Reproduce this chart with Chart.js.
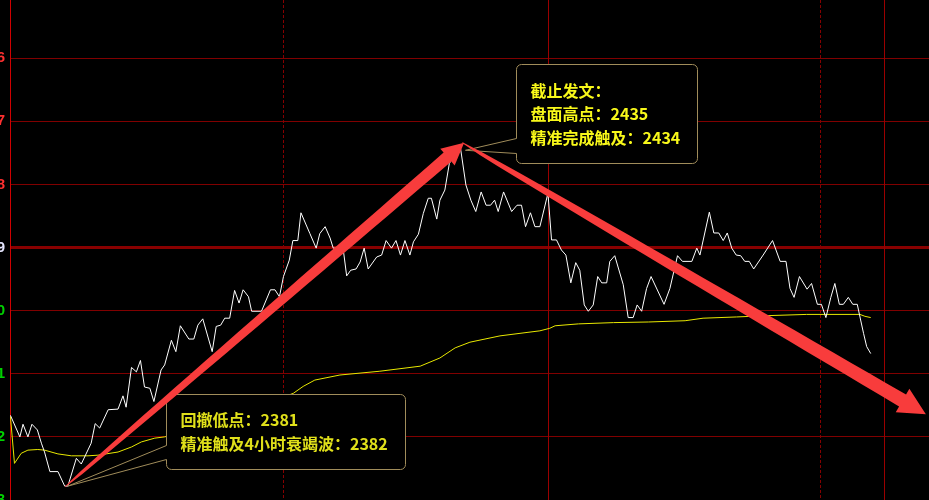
<!DOCTYPE html>
<html>
<head>
<meta charset="utf-8">
<script src="https://cdn.jsdelivr.net/npm/chart.js@4.4.1/dist/chart.umd.min.js"></script>
<style>
html, body { margin: 0; padding: 0; background: #000; overflow: hidden; }
#wrap { position: absolute; left: 0; top: -5px; width: 929px; height: 505px; }
</style>
</head>
<body>
<div id="wrap"><canvas id="chart" width="929" height="505"></canvas></div>
<script>
// intraday price (minutes from open, index points)
const priceMinutes = [
    0.1, 2.2, 2.9, 4.0, 4.9, 6.1, 7.0, 7.7, 8.9, 10.7,
    12.2, 12.9, 14.8, 15.9, 18.1, 19.0, 20.0, 21.9, 24.1, 25.2,
    25.9, 27.1, 28.2, 29.1, 30.0, 31.2, 32.1, 33.7, 34.5, 36.0,
    37.0, 38.0, 39.9, 41.0, 41.9, 43.0, 45.1, 46.0, 47.0, 47.9,
    49.0, 50.1, 51.1, 52.0, 53.2, 53.9, 56.1, 58.1, 59.1, 60.1,
    61.0, 62.3, 63.1, 64.2, 64.9, 66.9, 68.3, 69.1, 70.3, 71.4,
    72.1, 74.3, 75.1, 76.0, 77.2, 78.1, 79.0, 79.9, 81.8, 82.9,
    83.9, 85.1, 86.1, 87.1, 88.1, 89.2, 90.0, 91.1, 92.2, 93.3,
    94.0, 95.2, 95.9, 97.0, 98.0, 100.4, 101.7, 102.8, 103.9, 105.1,
    106.2, 107.2, 108.1, 108.9, 110.1, 111.9, 113.1, 114.1, 115.0, 116.1,
    117.1, 118.2, 120.0, 120.8, 121.9, 123.0, 124.0, 125.1, 126.2, 127.1,
    128.1, 129.0, 130.1, 131.1, 132.0, 133.1, 133.8, 134.9, 136.8, 137.9,
    139.0, 139.9, 140.9, 142.0, 143.0, 145.9, 147.2, 148.9, 150.0, 152.1,
    153.2, 153.9, 156.0, 157.0, 158.1, 159.1, 160.0, 161.0, 162.0, 163.0,
    163.9, 164.9, 165.9, 168.0, 170.1, 171.8, 173.1, 174.0, 174.9, 176.1,
    177.8, 178.8, 180.1, 181.0, 182.0, 183.1, 184.0, 185.0, 185.9, 187.0,
    188.0, 189.0, 189.6, 190.4, 191.1, 192.0
];
const priceValues = [
    2392.4, 2389.0, 2391.0, 2389.0, 2391.0, 2390.1, 2388.0, 2386.6, 2383.5, 2383.5,
    2381.2, 2381.2, 2385.6, 2384.7, 2388.0, 2391.1, 2390.4, 2393.3, 2393.4, 2395.5,
    2393.7, 2400.0, 2399.3, 2401.1, 2396.9, 2396.7, 2394.6, 2399.6, 2400.4, 2404.3,
    2402.5, 2406.6, 2404.5, 2404.5, 2406.7, 2407.7, 2402.5, 2406.5, 2406.7, 2407.8,
    2407.8, 2412.2, 2410.2, 2412.3, 2411.2, 2408.9, 2408.9, 2412.3, 2412.3, 2411.2,
    2414.4, 2417.0, 2420.1, 2420.1, 2424.5, 2421.2, 2418.9, 2421.2, 2422.3, 2420.5,
    2418.9, 2418.9, 2414.5, 2415.4, 2415.6, 2416.7, 2418.9, 2415.6, 2417.5, 2417.8,
    2420.1, 2418.9, 2420.1, 2417.8, 2420.1, 2417.8, 2419.9, 2421.1, 2424.4, 2426.8,
    2426.8, 2423.5, 2426.5, 2428.1, 2432.3, 2435.2, 2428.9, 2426.5, 2424.7, 2427.8,
    2425.7, 2425.7, 2426.5, 2424.7, 2427.8, 2424.7, 2425.7, 2425.7, 2422.3, 2424.5,
    2422.3, 2422.3, 2427.6, 2420.2, 2420.2, 2418.6, 2417.8, 2413.4, 2416.6, 2415.4,
    2409.9, 2408.9, 2409.9, 2414.4, 2413.4, 2413.4, 2416.8, 2417.7, 2413.1, 2407.9,
    2407.9, 2409.9, 2408.9, 2412.5, 2414.4, 2410.0, 2412.5, 2417.7, 2416.8, 2416.8,
    2418.9, 2417.8, 2424.6, 2421.3, 2421.3, 2420.1, 2421.3, 2418.9, 2417.8, 2417.7,
    2416.8, 2416.8, 2415.6, 2417.8, 2420.1, 2416.8, 2416.8, 2412.5, 2411.1, 2414.4,
    2412.4, 2413.3, 2410.0, 2410.0, 2407.9, 2411.1, 2413.3, 2410.0, 2410.0, 2411.1,
    2410.0, 2410.0, 2408.0, 2405.4, 2403.3, 2402.2
];

// average price line
const avgMinutes = [
    0.1, 1.0, 2.5, 4.0, 6.2, 7.7, 10.7, 13.7, 17.4, 19.6,
    24.1, 27.1, 29.3, 32.3, 34.5, 42.4, 51.3, 58.0, 63.2, 65.4,
    68.0, 73.6, 82.5, 91.5, 95.9, 99.3, 102.6, 109.3, 118.2, 120.4,
    121.6, 126.8, 134.6, 142.4, 150.6, 154.6, 162.1, 168.8, 177.7, 189.6,
    190.7, 192.0
];
const avgValues = [
    2392.2, 2384.8, 2386.4, 2386.9, 2387.0, 2386.9, 2386.3, 2386.0, 2386.0, 2386.1,
    2386.6, 2387.4, 2388.2, 2388.8, 2389.0, 2390.4, 2392.6, 2394.5, 2395.9, 2397.0,
    2398.0, 2398.8, 2399.4, 2400.2, 2401.5, 2403.1, 2404.0, 2405.0, 2405.8, 2406.2,
    2406.6, 2406.9, 2407.1, 2407.2, 2407.4, 2407.8, 2408.0, 2408.2, 2408.4, 2408.4,
    2408.1, 2407.9
];

// axis
const yTicks = [2459, 2449, 2439, 2429, 2419, 2409, 2399, 2389, 2379];
const yTickLabels = ['5', '6', '7', '8', '9', '0', '1', '2', '3'];
const prevClose = 2419;
const sessionLines = [60.9, 120, 180.7, 195];
const sessionDashed = [true, false, true, false];

// arrows: [minute, price]
const arrowFrom = [[12.3, 2381.1], [100.9, 2435.6]];
const arrowTo = [[101.3, 2435.6], [204.3, 2392.6]];

// callouts
const noteText1 = ['回撤低点：2381', '精准触及4小时衰竭波：2382'];
const noteText2 = ['截止发文：', '盘面高点：2435', '精准完成触及：2434'];
const noteCorner = [[34.7, 2395.8], [112.8, 2448.1]];
const notePoint = [[12.9, 2381.2], [101.6, 2434.4]];

const noteStyle = [
    { w: 239, h: 75, tail: [51, 65], lineY: [25, 49], color: '#e0e01a' },
    { w: 181, h: 99, tail: [74, 89], lineY: [26, 49, 73], color: '#f8f81a' }
];
const noteTexts = [noteText1, noteText2];
const arrowStyle = [
    { maxW: 11, headLen: 22, headW: 22 },
    { maxW: 13, headLen: 27, headW: 27 }
];

const drawNote = function (ctx, x, y, i) {
    const st = noteStyle[i];
    const left = Math.round(x.getPixelForValue(noteCorner[i][0])) + 0.5;
    const top = Math.round(y.getPixelForValue(noteCorner[i][1])) + 0.5;
    const px = x.getPixelForValue(notePoint[i][0]);
    const py = y.getPixelForValue(notePoint[i][1]);
    const r = 5, right = left + st.w, bottom = top + st.h;

    ctx.beginPath();
    ctx.moveTo(left + r, top);
    ctx.lineTo(right - r, top);
    ctx.arcTo(right, top, right, top + r, r);
    ctx.lineTo(right, bottom - r);
    ctx.arcTo(right, bottom, right - r, bottom, r);
    ctx.lineTo(left + r, bottom);
    ctx.arcTo(left, bottom, left, bottom - r, r);
    ctx.lineTo(left, top + st.tail[1]);
    ctx.lineTo(px, py);
    ctx.lineTo(left, top + st.tail[0]);
    ctx.lineTo(left, top + r);
    ctx.arcTo(left, top, left + r, top, r);
    ctx.closePath();
    ctx.fillStyle = '#000';
    ctx.fill();
    ctx.strokeStyle = '#a08c5a';
    ctx.lineWidth = 1;
    ctx.stroke();

    ctx.fillStyle = st.color;
    ctx.font = "bold 16px 'Noto Sans CJK SC', sans-serif";
    ctx.textBaseline = 'middle';
    ctx.textAlign = 'left';
    noteTexts[i].forEach((t, k) => ctx.fillText(t, left + 14, top + st.lineY[k]));
};

const drawArrow = function (ctx, x, y, i) {
    const st = arrowStyle[i];
    const x0 = x.getPixelForValue(arrowFrom[i][0]), y0 = y.getPixelForValue(arrowFrom[i][1]);
    const x1 = x.getPixelForValue(arrowTo[i][0]), y1 = y.getPixelForValue(arrowTo[i][1]);
    const len = Math.hypot(x1 - x0, y1 - y0);
    const ux = (x1 - x0) / len, uy = (y1 - y0) / len;
    const nx = -uy, ny = ux;
    const shaft = len - st.headLen;
    const leftSide = [], rightSide = [];
    for (let k = 0; k <= 24; k++) {
        const t = k / 24;
        const hw = st.maxW * Math.sqrt(t) / 2 + 0.4;
        const cx = x0 + ux * shaft * t, cy = y0 + uy * shaft * t;
        leftSide.push([cx + nx * hw, cy + ny * hw]);
        rightSide.push([cx - nx * hw, cy - ny * hw]);
    }
    const bx = x0 + ux * shaft, by = y0 + uy * shaft;
    ctx.beginPath();
    ctx.moveTo(leftSide[0][0], leftSide[0][1]);
    leftSide.forEach(p => ctx.lineTo(p[0], p[1]));
    ctx.lineTo(bx + nx * st.headW / 2, by + ny * st.headW / 2);
    ctx.lineTo(x1, y1);
    ctx.lineTo(bx - nx * st.headW / 2, by - ny * st.headW / 2);
    rightSide.slice().reverse().forEach(p => ctx.lineTo(p[0], p[1]));
    ctx.closePath();
    ctx.fillStyle = '#f83c3c';
    ctx.fill();
};

const overlayPlugin = {
    id: 'overlay',
    beforeDatasetsDraw(chart) {
        const { ctx, chartArea, scales: { x } } = chart;
        ctx.save();
        sessionLines.forEach((m, i) => {
            const px = Math.round(x.getPixelForValue(m)) + 0.5;
            ctx.strokeStyle = sessionDashed[i] ? '#860000' : '#9a0000';
            ctx.lineWidth = 1;
            ctx.setLineDash(sessionDashed[i] ? [3, 2] : []);
            ctx.beginPath();
            ctx.moveTo(px, chartArea.top);
            ctx.lineTo(px, chartArea.bottom);
            ctx.stroke();
        });
        ctx.restore();
    },
    afterDatasetsDraw(chart) {
        const { ctx, scales: { x, y } } = chart;
        ctx.save();
        for (let i = 0; i < noteTexts.length; i++) drawNote(ctx, x, y, i);
        for (let i = 0; i < arrowFrom.length; i++) drawArrow(ctx, x, y, i);
        ctx.restore();
    }
};

const tickColor = function (value) {
    if (value === prevClose) return '#e6e6ff';
    return value > prevClose ? '#ff3030' : '#00d200';
};

window.onload = (event) => {
    const ctx = document.getElementById('chart').getContext('2d');
    new Chart(ctx, {
        type: 'line',
        data: {
            datasets: [
                {
                    label: 'price',
                    data: priceMinutes.map((m, i) => ({ x: m, y: priceValues[i] })),
                    borderColor: '#ffffff',
                    borderWidth: 1,
                    pointRadius: 0,
                    tension: 0
                },
                {
                    label: 'average',
                    data: avgMinutes.map((m, i) => ({ x: m, y: avgValues[i] })),
                    borderColor: '#e8e800',
                    borderWidth: 1,
                    pointRadius: 0,
                    tension: 0
                }
            ]
        },
        options: {
            responsive: false,
            animation: false,
            devicePixelRatio: 1,
            layout: { padding: 0 },
            plugins: {
                legend: { display: false },
                tooltip: { enabled: false }
            },
            scales: {
                x: {
                    type: 'linear',
                    min: 0,
                    max: 205,
                    display: false
                },
                y: {
                    min: 2379,
                    max: 2459,
                    afterBuildTicks: (scale) => {
                        scale.ticks = yTicks.map(v => ({ value: v }));
                    },
                    afterFit: (scale) => {
                        scale.width = 10;
                        scale.paddingTop = 0;
                        scale.paddingBottom = 0;
                    },
                    ticks: {
                        padding: 5,
                        autoSkip: false,
                        font: { family: 'Arial', size: 15, weight: 'bold' },
                        color: (c) => tickColor(c.tick.value),
                        callback: (value) => yTickLabels[yTicks.indexOf(value)]
                    },
                    grid: {
                        drawTicks: false,
                        color: (c) => c.tick.value === prevClose ? '#880000' : '#800000',
                        lineWidth: (c) => c.tick.value === prevClose ? 3 : 1
                    },
                    border: { color: '#d00000', width: 1 }
                }
            }
        },
        plugins: [overlayPlugin]
    });
};
</script>
</body>
</html>
